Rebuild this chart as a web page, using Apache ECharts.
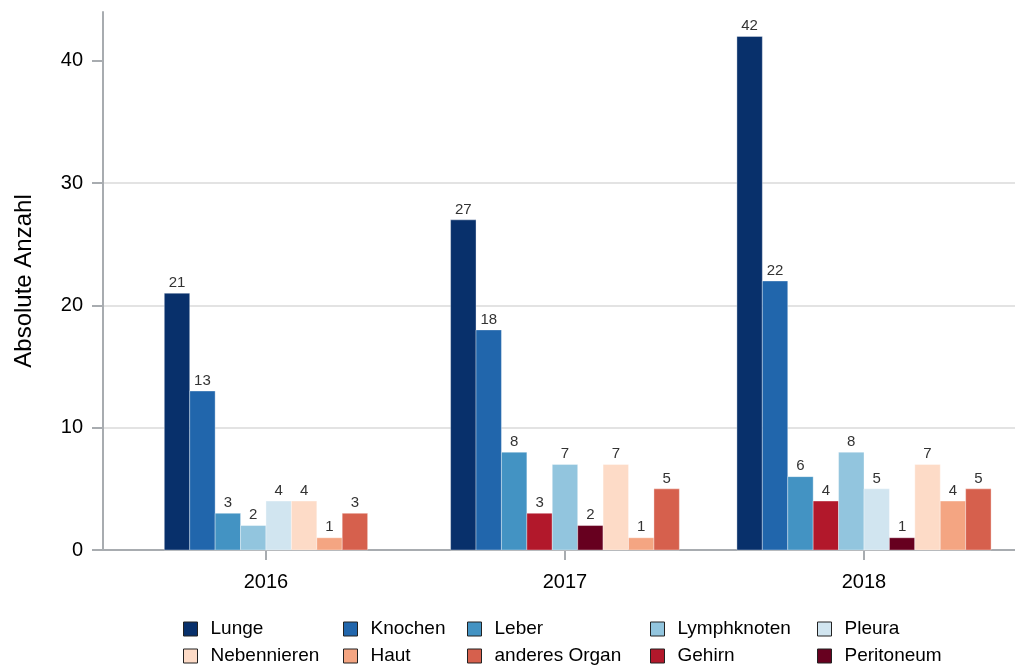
<!DOCTYPE html>
<html>
<head>
<meta charset="utf-8">
<script src="https://cdn.jsdelivr.net/npm/echarts@6/dist/echarts.min.js"></script>
<style>
  html, body { margin: 0; padding: 0; background: #fff; }
  #chart { width: 1015px; height: 668px; }
</style>
</head>
<body>
<div id="chart"></div>
<script>
// 数据
const years = ["2016", "2017", "2018"];
const lunge = [21, 27, 42];
const knochen = [13, 18, 22];
const leber = [3, 8, 6];
const gehirn = [null, 3, 4];
const lymphknoten = [2, 7, 8];
const pleura = [4, null, 5];
const peritoneum = [null, 2, 1];
const nebennieren = [4, 7, 7];
const haut = [1, 1, 4];
const anderesOrgan = [3, 5, 5];
const yTicks = [0, 10, 20, 30, 40];

// 柱子顺序（每组内，空值不占位）
const barSeries = [
  { name: "Lunge", values: lunge, color: "#08306b" },
  { name: "Knochen", values: knochen, color: "#2166ac" },
  { name: "Leber", values: leber, color: "#4393c3" },
  { name: "Gehirn", values: gehirn, color: "#b2182b" },
  { name: "Lymphknoten", values: lymphknoten, color: "#92c5de" },
  { name: "Pleura", values: pleura, color: "#d1e5f0" },
  { name: "Peritoneum", values: peritoneum, color: "#67001f" },
  { name: "Nebennieren", values: nebennieren, color: "#fddbc7" },
  { name: "Haut", values: haut, color: "#f4a582" },
  { name: "anderes Organ", values: anderesOrgan, color: "#d6604d" }
];

// 图例列
const legendCols = [
  { left: 183, data: ["Lunge", "Nebennieren"] },
  { left: 343, data: ["Knochen", "Haut"] },
  { left: 467, data: ["Leber", "anderes Organ"] },
  { left: 650, data: ["Lymphknoten", "Gehirn"] },
  { left: 817, data: ["Pleura", "Peritoneum"] }
];

const FONT = "Liberation Sans, Arial, sans-serif";
const BAR_FRACTION = 0.085;

// 每组的位置与数量
const counts = years.map((_, i) => barSeries.filter(s => s.values[i] != null).length);
const slots = barSeries.map(() => []);
years.forEach((_, i) => {
  let k = 0;
  barSeries.forEach((s, si) => {
    if (s.values[i] != null) { slots[si][i] = k; k++; }
  });
});

function renderBar(params, api) {
  const cat = api.value(0);
  const val = api.value(1);
  const slot = api.value(2);
  const n = api.value(3);
  const w = api.size([1, 0])[0] * BAR_FRACTION;
  const top = api.coord([cat, val]);
  const base = api.coord([cat, 0]);
  const x = top[0] + (slot - (n - 1) / 2) * w - w / 2;
  const color = api.visual("color");
  return {
    type: "group",
    children: [
      {
        type: "rect",
        shape: { x: x, y: top[1], width: w, height: base[1] - top[1] },
        style: { fill: color, stroke: "rgba(255,255,255,0.35)", lineWidth: 1 }
      },
      {
        type: "text",
        style: {
          text: String(val), x: x + w / 2, y: top[1] - 3,
          align: "center", verticalAlign: "bottom",
          font: "15px " + FONT, fill: "#333"
        }
      }
    ]
  };
}

const chart = echarts.init(document.getElementById("chart"), null, { renderer: "canvas" });

chart.setOption({
  backgroundColor: "#fff",
  animation: false,
  grid: { left: 103, right: 0, top: 12, bottom: 118, outerBoundsMode: "none", containLabel: false },
  legend: legendCols.map(c => ({
    orient: "vertical",
    left: c.left,
    top: 619,
    padding: 0,
    itemWidth: 14,
    itemHeight: 14,
    itemGap: 7,
    icon: "rect",
    itemStyle: { borderColor: "#222", borderWidth: 1 },
    textStyle: { fontFamily: FONT, fontSize: 19, lineHeight: 20, color: "#000", padding: [0, 0, 0, 8] },
    data: c.data
  })),
  xAxis: {
    type: "value",
    min: -0.545,
    max: 2.505,
    axisLine: { show: true, onZero: false, lineStyle: { color: "#a8acb0", width: 2 } },
    axisTick: { show: true, customValues: [0, 1, 2], length: 10, lineStyle: { color: "#a8acb0", width: 2 } },
    axisLabel: {
      customValues: [0, 1, 2],
      formatter: v => years[Math.round(v)],
      fontFamily: FONT, fontSize: 20, color: "#000", margin: 22
    },
    splitLine: { show: false }
  },
  yAxis: {
    type: "value",
    min: 0,
    max: 44,
    interval: 10,
    name: "Absolute Anzahl",
    nameLocation: "middle",
    nameGap: 67,
    nameRotate: 90,
    nameTextStyle: { fontFamily: FONT, fontSize: 24, color: "#000" },
    axisLine: { show: true, onZero: false, lineStyle: { color: "#a8acb0", width: 2 } },
    axisTick: { show: true, customValues: yTicks, length: 11, lineStyle: { color: "#a8acb0", width: 2 } },
    axisLabel: { customValues: yTicks, fontFamily: FONT, fontSize: 20, color: "#000", margin: 20 },
    splitLine: { show: true, showMaxLine: false, lineStyle: { color: "#e3e3e3", width: 2 } }
  },
  series: barSeries.map((s, si) => ({
    name: s.name,
    type: "custom",
    itemStyle: { color: s.color },
    renderItem: renderBar,
    encode: { x: 0, y: 1 },
    data: years.map((_, i) => s.values[i] == null ? null : [i, s.values[i], slots[si][i], counts[i]])
      .filter(d => d != null)
  }))
});

window.addEventListener("resize", () => chart.resize());
</script>
</body>
</html>
